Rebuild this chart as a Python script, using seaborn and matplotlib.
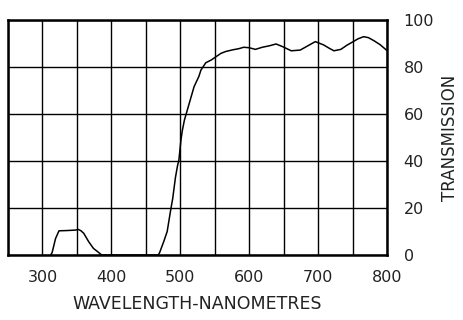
"""
Filter transmission curve
"""
import numpy as np
import pandas as pd
import matplotlib
matplotlib.use('Agg')
import matplotlib.pyplot as plt
import seaborn as sns

# values
wavelength = [312, 314, 319, 324, 335, 348, 352, 356, 360, 367, 374, 381, 386,
              468, 470, 476, 481, 486, 489, 493, 496, 498, 501, 503, 506, 513,
              520, 527, 530, 537, 545, 552, 559, 566, 576, 585, 592, 600,
              609, 619, 629, 639, 649, 661, 674, 685, 696, 708, 716, 723, 733,
              742, 751, 758, 766, 773, 781, 790, 798, 800]
transmission = [0, 1, 7, 10.3, 10.4, 10.6, 10.9, 10.3, 9.2, 5.7, 2.8, 1.2, 0,
                0, 1, 5.7, 10, 19, 24, 33, 38, 40.4, 49, 53, 57.4, 64.5,
                71.6, 76, 78.7, 81.8, 83, 84.4, 85.8, 86.6, 87.3, 87.8, 88.4, 88.2,
                87.5, 88.4, 89, 89.8, 88.6, 86.9, 87.2, 89, 90.8, 89.4, 88, 86.9, 87.5,
                89.3, 90.8, 92, 92.9, 92.5, 91.2, 89.5, 87.5, 87]
x_ticks = [300, 400, 500, 600, 700, 800]
y_ticks = [0, 20, 40, 60, 80, 100]

df = pd.DataFrame({'wl': wavelength, 'tr': transmission})

sns.set_style('white')
plt.rcParams['font.family'] = ['DejaVu Sans']

fig = plt.figure(figsize=(4.63, 3.2), dpi=100)
ax = fig.add_axes([8/463, 1-255/320, (387-8)/463, (255-20)/320])

sns.lineplot(data=df, x='wl', y='tr', ax=ax, color='black', linewidth=1.1,
             estimator=None, zorder=3)

ax.set_xlim(250, 800)
ax.set_ylim(0, 100)
ax.set_xticks(x_ticks)
ax.set_xticks(np.arange(250, 801, 50), minor=True)
ax.set_yticks(y_ticks)
ax.grid(True, which='both', color='black', linewidth=1.0)
ax.tick_params(which='both', length=0)
ax.tick_params(axis='x', pad=11, labelsize=11.5, labelcolor='#222222')
ax.yaxis.tick_right()
ax.tick_params(axis='y', pad=12, labelsize=11.5, labelcolor='#222222')
for s in ax.spines.values():
    s.set_visible(True)
    s.set_color('black')
    s.set_linewidth(1.8)

ax.set_xlabel('WAVELENGTH-NANOMETRES', fontsize=12.5, labelpad=7, color='#222222')
ax.set_ylabel('TRANSMISSION', fontsize=12, labelpad=5, color='#222222')
ax.yaxis.set_label_position('right')

fig.savefig('out.png', dpi=100, facecolor='white')
